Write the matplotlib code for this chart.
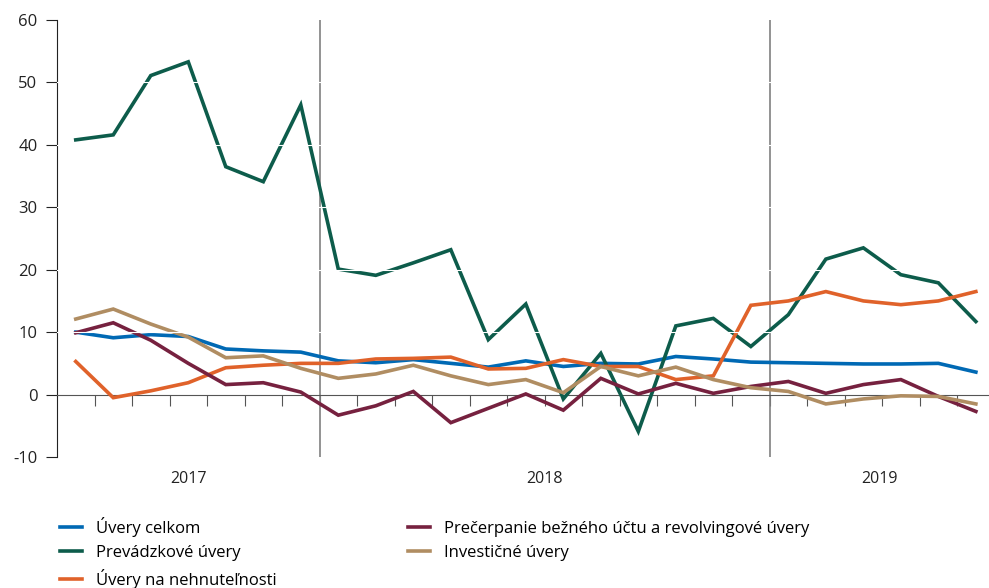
import numpy as np
import matplotlib.pyplot as plt
import matplotlib.transforms as mtransforms

plt.rcParams['font.family'] = ['Open Sans', 'DejaVu Sans']

# --- Dáta (mesačne, jún 2017 - jún 2019) ---
uvery_celkom = [10.0, 9.1, 9.6, 9.3, 7.3, 7.0, 6.8, 5.4, 5.1, 5.6, 5.0, 4.4, 5.4, 4.5, 5.0,
                4.9, 6.1, 5.7, 5.2, 5.1, 5.0, 4.9, 4.9, 5.0, 3.6]
prevadzkove = [40.8, 41.6, 51.1, 53.3, 36.5, 34.1, 46.4, 20.1, 19.1, 21.1, 23.2, 8.8, 14.5, -0.7, 6.6,
               -5.9, 11.0, 12.2, 7.7, 12.8, 21.7, 23.5, 19.2, 17.9, 11.7]
nehnutelnosti = [5.3, -0.5, 0.6, 1.9, 4.3, 4.7, 5.0, 5.0, 5.7, 5.8, 6.0, 4.1, 4.2, 5.6, 4.5,
                 4.5, 2.4, 3.0, 14.3, 15.0, 16.5, 15.0, 14.4, 15.0, 16.5]
precerpanie = [9.9, 11.5, 8.7, 5.0, 1.6, 1.9, 0.4, -3.3, -1.8, 0.5, -4.5, -2.2, 0.1, -2.5, 2.6,
               0.1, 1.8, 0.2, 1.3, 2.1, 0.2, 1.6, 2.4, -0.3, -2.7]
investicne = [12.1, 13.7, 11.3, 9.2, 5.9, 6.2, 4.2, 2.6, 3.3, 4.7, 3.0, 1.6, 2.4, 0.3, 4.5,
              3.0, 4.4, 2.4, 1.1, 0.5, -1.5, -0.7, -0.2, -0.3, -1.5]

years = ['2017', '2018', '2019']
year_bounds = [0, 7, 19, 24.85]  # hranice rokov v mesiacoch
y_ticks = [-10, 0, 10, 20, 30, 40, 50, 60]

series = [
    ('Úvery celkom', uvery_celkom, '#0069b4'),
    ('Prevádzkové úvery', prevadzkove, '#0d5c4b'),
    ('Úvery na nehnuteľnosti', nehnutelnosti, '#e0622a'),
    ('Prečerpanie bežného účtu a revolvingové úvery', precerpanie, '#76213f'),
    ('Investičné úvery', investicne, '#b08d62'),
]

fig = plt.figure(figsize=(9.89, 5.88), dpi=100)
ax = fig.add_axes([57 / 989, 131 / 588, 1 - 57 / 989, 437 / 588])

x = np.arange(len(uvery_celkom)) + 0.5
for label, vals, col in series:
    ax.plot(x, vals, color=col, lw=2.6, label=label, solid_joinstyle='miter', zorder=3)

ax.set_xlim(year_bounds[0], year_bounds[-1])
ax.set_ylim(-10, 60)
ax.set_yticks(y_ticks)
ax.set_yticklabels([str(v) for v in y_ticks], fontsize=12, color='#222222')

# biele mriežky nad čiarami
for v in y_ticks[2:-1]:
    ax.axhline(v, color='white', lw=0.8, zorder=4)

# oddeľovače rokov
for b in year_bounds[1:-1]:
    ax.axvline(b, color='#808080', lw=1.2, zorder=2)

for s in ['top', 'right']:
    ax.spines[s].set_visible(False)
ax.spines['left'].set_color('#222222')
ax.spines['bottom'].set_position(('data', 0))
ax.spines['bottom'].set_color('#555555')
ax.set_xticks(np.arange(1, 25))
ax.set_xticklabels([])
ax.tick_params(axis='x', direction='out', length=8, color='#555555')
ax.tick_params(axis='y', direction='out', length=8, color='#222222', pad=6)

trans = mtransforms.blended_transform_factory(ax.transData, ax.transAxes)
for i, yr in enumerate(years):
    xc = (year_bounds[i] + year_bounds[i + 1]) / 2
    ax.text(xc, -0.05, yr, transform=trans, ha='center', va='center', fontsize=11.5, color='#222222')

fig.legend(loc='upper left', bbox_to_anchor=(53 / 989, 1 - 510 / 588), ncol=2, frameon=False,
           fontsize=12, handlelength=1.35, handletextpad=0.8, columnspacing=7.9,
           labelspacing=0.5, borderaxespad=0)

fig.savefig('out.png', dpi=100)
